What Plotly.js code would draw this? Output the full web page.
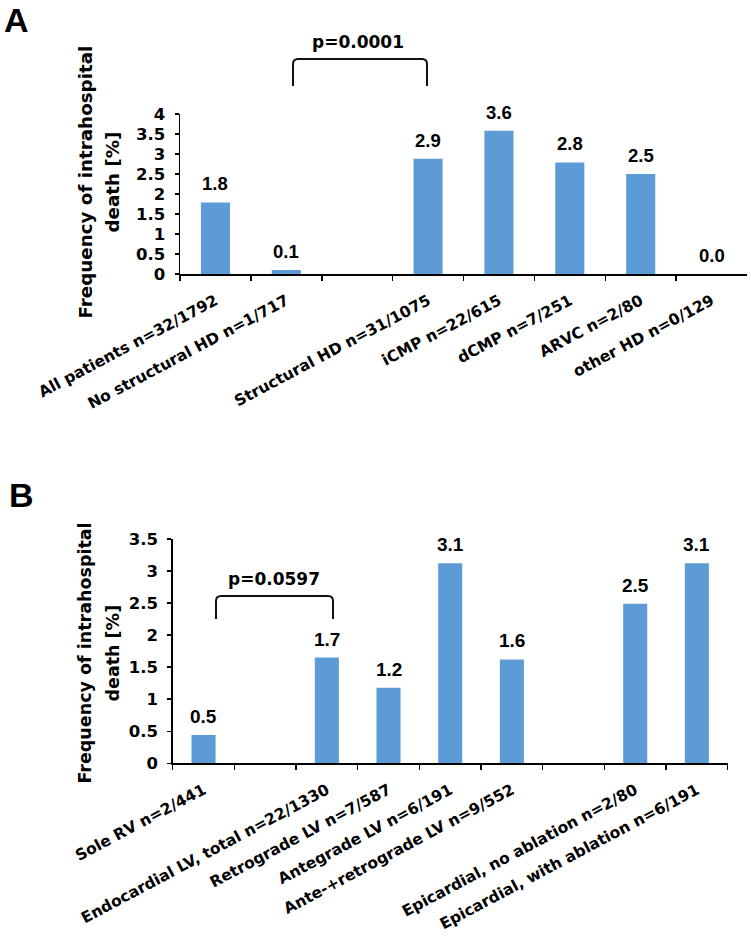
<!DOCTYPE html>
<html>
<head>
<meta charset="utf-8">
<script src="https://cdn.plot.ly/plotly-3.0.1.min.js"></script>
<style>html,body{margin:0;padding:0;background:#fff;}#chart{width:751px;height:949px;}</style>
</head>
<body>
<div id="chart"></div>
<script>
// ---- Data ----
const catsA = ["All patients n=32/1792", "No structural HD n=1/717", " ", "Structural HD n=31/1075", "iCMP n=22/615", "dCMP n=7/251", "ARVC n=2/80", "other HD n=0/129"];
const valsA = [1.79, 0.1, null, 2.88, 3.58, 2.79, 2.5, 0];
const labelsA = ["1.8", "0.1", "", "2.9", "3.6", "2.8", "2.5", "0.0"];

const catsB = ["Sole RV n=2/441", " ", "Endocardial LV, total n=22/1330", "Retrograde LV n=7/587", "Antegrade LV n=6/191", "Ante-+retrograde LV n=9/552", "  ", "Epicardial, no ablation n=2/80", "Epicardial, with ablation n=6/191"];
const valsB = [0.44, null, 1.65, 1.18, 3.12, 1.62, null, 2.49, 3.12];
const labelsB = ["0.5", "", "1.7", "1.2", "3.1", "1.6", "", "2.5", "3.1"];

const yTitleLines = ["Frequency of intrahospital", "death [%]"];
const pA = "p=0.0001";
const pB = "p=0.0597";

// ---- Layout helpers ----
const W = 751, H = 949;
const px = x => x / W;
const py = y => 1 - y / H;
const BLUE = "rgb(93,155,215)";
const WIDE = "DejaVu Sans, Verdana, sans-serif";
const ARIAL = "Liberation Sans, Arial, sans-serif";

const traces = [
  {type: "bar", x: catsA, y: valsA, xaxis: "x", yaxis: "y", width: 0.41,
   marker: {color: BLUE}, hoverinfo: "skip"},
  {type: "bar", x: catsB, y: valsB, xaxis: "x2", yaxis: "y2", width: 0.39,
   marker: {color: BLUE}, hoverinfo: "skip"}
];

function xAxis(domain, anchor) {
  return {domain: domain, anchor: anchor, type: "category", showline: true, linecolor: "#000", linewidth: 2,
    ticks: "outside", tickson: "boundaries", ticklen: 5, tickwidth: 1.5, tickcolor: "#000",
    tickangle: -28, tickfont: {family: WIDE, size: 15.5, color: "#000", weight: "bold"},
    ticklabelstandoff: 10,
    showgrid: false, zeroline: false, automargin: false, fixedrange: true};
}
function yAxis(domain, anchor, max, fsize) {
  return {domain: domain, anchor: anchor, range: [0, max], dtick: 0.5, tick0: 0, showline: true,
    linecolor: "#000", linewidth: 1.5, ticks: "outside", ticklen: 4, tickwidth: 1.5, tickcolor: "#000",
    tickfont: {family: WIDE, size: fsize, color: "#000", weight: "bold"}, ticklabelstandoff: 6,
    showgrid: false, zeroline: false, automargin: false, fixedrange: true};
}

const annotations = [];
function barLabels(cats, vals, labels, xr, yr, size) {
  cats.forEach((c, i) => {
    if (vals[i] === null) return;
    annotations.push({x: c, y: vals[i], xref: xr, yref: yr, text: "<b>" + labels[i] + "</b>",
      showarrow: false, yanchor: "bottom", yshift: 6,
      font: {family: ARIAL, size: size, color: "#000"}});
  });
}
barLabels(catsA, valsA, labelsA, "x", "y", 18.5);
barLabels(catsB, valsB, labelsB, "x2", "y2", 19);

function yTitle(cy, x1, x2, size) {
  [x1, x2].forEach((xx, k) => annotations.push({
    x: px(xx), y: py(cy), xref: "paper", yref: "paper", text: "<b>" + yTitleLines[k] + "</b>",
    textangle: -90, showarrow: false, xanchor: "center", yanchor: "middle",
    font: {family: WIDE, size: size, color: "#000"}}));
}
yTitle(182, 84.5, 111.5, 18.3);
yTitle(653, 84.5, 112.5, 17.5);

// panel letters
annotations.push({x: px(2), y: py(20), xref: "paper", yref: "paper", text: "<b>A</b>", showarrow: false,
  xanchor: "left", yanchor: "middle", font: {family: ARIAL, size: 34, color: "#000"}});
annotations.push({x: px(7), y: py(495), xref: "paper", yref: "paper", text: "<b>B</b>", showarrow: false,
  xanchor: "left", yanchor: "middle", font: {family: ARIAL, size: 34, color: "#000"}});

// p-values
annotations.push({x: px(358), y: py(42), xref: "paper", yref: "paper", text: "<b>" + pA + "</b>", showarrow: false,
  xanchor: "center", yanchor: "middle", font: {family: WIDE, size: 17, color: "#000"}});
annotations.push({x: px(273.5), y: py(579), xref: "paper", yref: "paper", text: "<b>" + pB + "</b>", showarrow: false,
  xanchor: "center", yanchor: "middle", font: {family: WIDE, size: 17, color: "#000"}});

function bracket(xl, xr, yt, yb) {
  const r = 5;
  const X = v => px(v).toFixed(5), Y = v => py(v).toFixed(5);
  const path = `M ${X(xl)},${Y(yb)} L ${X(xl)},${Y(yt + r)} Q ${X(xl)},${Y(yt)} ${X(xl + r)},${Y(yt)} ` +
    `L ${X(xr - r)},${Y(yt)} Q ${X(xr)},${Y(yt)} ${X(xr)},${Y(yt + r)} L ${X(xr)},${Y(yb)}`;
  return {type: "path", xref: "paper", yref: "paper", path: path, line: {color: "#111", width: 2}};
}

const layout = {
  width: W, height: H, margin: {l: 0, r: 0, t: 0, b: 0}, paper_bgcolor: "#fff", plot_bgcolor: "#fff",
  showlegend: false, hovermode: false, bargap: 0.5,
  xaxis: xAxis([px(180), px(747)], "y"),
  yaxis: yAxis([py(274), py(114)], "x", 4, 16.5),
  xaxis2: xAxis([px(172.7), px(727.7)], "y2"),
  yaxis2: yAxis([py(763.3), py(539)], "x2", 3.5, 16.5),
  annotations: annotations,
  shapes: [bracket(293, 427, 59, 86), bracket(216, 333, 596, 619)]
};

Plotly.newPlot("chart", traces, layout, {staticPlot: true, displayModeBar: false});
</script>
</body>
</html>
